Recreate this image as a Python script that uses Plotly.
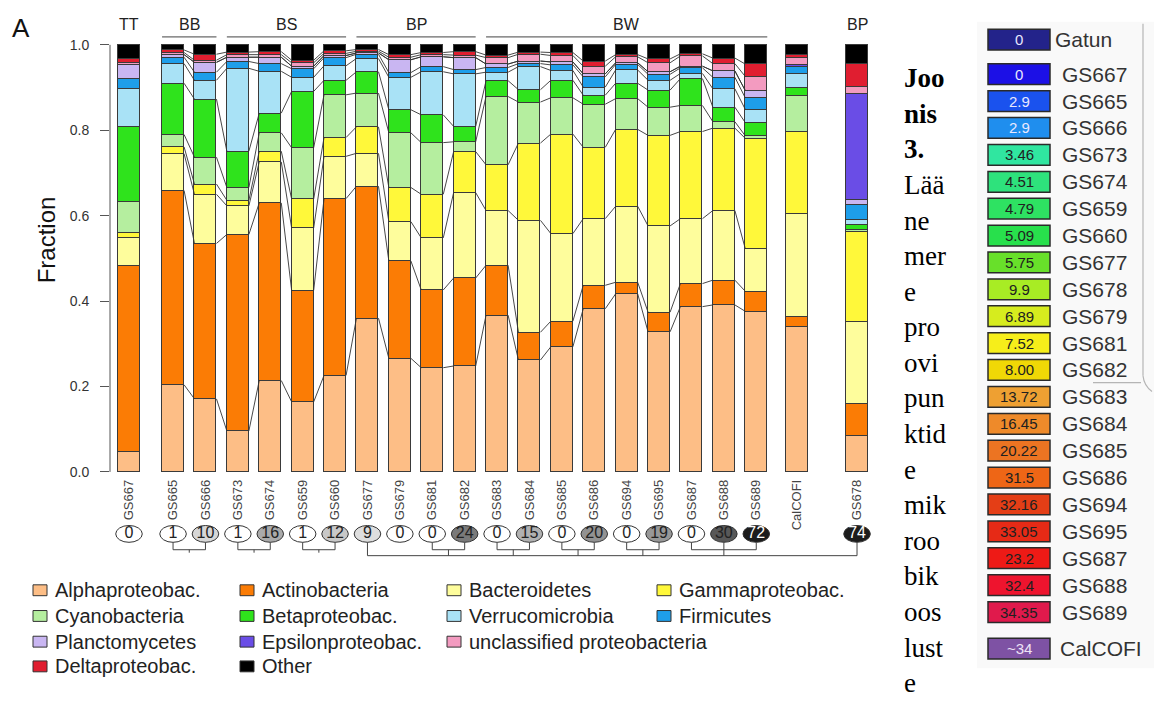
import numpy as np
import plotly.graph_objects as go

W, H = 1154, 704
SANS = "Liberation Sans, Arial, Helvetica, sans-serif"
SERIF = "Liberation Serif, Times New Roman, serif"

# ---------------------------------------------------------------- data
samples = ["GS667", "GS665", "GS666", "GS673", "GS674", "GS659", "GS660",
           "GS677", "GS679", "GS681", "GS682", "GS683", "GS684", "GS685",
           "GS686", "GS694", "GS695", "GS687", "GS688", "GS689", "CalCOFI", "GS678"]

alphaproteobac = [.048, .204, .171, .096, .214, .164, .226, .360, .266, .244, .248,
                  .367, .262, .293, .382, .417, .328, .387, .391, .376, .341, .085]
actinobacteria = [.436, .455, .364, .460, .416, .261, .414, .309, .228, .182, .206,
                  .117, .065, .060, .055, .027, .046, .054, .058, .047, .022, .075]
bacteroidetes = [.064, .086, .115, .067, .096, .146, .099, .077, .092, .122, .200,
                 .128, .262, .205, .156, .178, .202, .152, .163, .100, .243, .193]
gammaproteobac = [.013, .016, .024, .013, .025, .068, .044, .062, .080, .102, .096,
                  .107, .181, .233, .167, .180, .212, .204, .193, .258, .191, .210]
cyanobacteria = [.071, .029, .063, .030, .043, .120, .100, .079, .128, .121, .023,
                 .160, .096, .085, .101, .072, .066, .061, .015, .006, .084, .004]
betaproteobac = [.176, .120, .136, .085, .046, .132, .034, .050, .054, .065, .036,
                 .037, .029, .041, .021, .036, .040, .063, .034, .031, .020, .012]
verrucomicrobia = [.089, .046, .044, .194, .098, .033, .034, .031, .076, .101, .123,
                   .020, .054, .023, .019, .031, .023, .012, .043, .031, .032, .011]
firmicutes = [.024, .015, .019, .016, .018, .020, .019, .010, .011, .012, .010,
              .011, .007, .013, .024, .013, .014, .013, .027, .027, .016, .035]
planctomycetes = [.033, .006, .023, .010, .015, .006, .005, .003, .030, .023, .028,
                  .008, .006, .007, .007, .004, .006, .004, .015, .017, .000, .012]
epsilonproteobac = [0, 0, 0, 0, 0, 0, 0, 0, 0, 0, 0,
                    0, 0, 0, 0, 0, 0, 0, 0, 0, .004, .250]
unclassified = [.004, .005, .005, .006, .006, .008, .005, .004, .006, .005, .006,
                .015, .016, .015, .018, .014, .021, .024, .017, .033, .018, .016]
deltaproteobac = [.011, .006, .014, .006, .007, .006, .006, .004, .006, .005, .008,
                  .006, .005, .007, .012, .005, .009, .005, .013, .029, .006, .052]
other = [.031, .012, .022, .017, .016, .036, .014, .011, .023, .018, .016,
         .024, .017, .018, .038, .023, .033, .021, .031, .045, .023, .045]

taxa = [
    ("Alphaproteobac.", alphaproteobac, "#FDBE86"),
    ("Actinobacteria", actinobacteria, "#FB7C05"),
    ("Bacteroidetes", bacteroidetes, "#FEFD9C"),
    ("Gammaproteobac.", gammaproteobac, "#FFF83A"),
    ("Cyanobacteria", cyanobacteria, "#B5EE9F"),
    ("Betaproteobac.", betaproteobac, "#2FE31C"),
    ("Verrucomicrobia", verrucomicrobia, "#A9E2F6"),
    ("Firmicutes", firmicutes, "#1E9EEA"),
    ("Planctomycetes", planctomycetes, "#C9B6F2"),
    ("Epsilonproteobac.", epsilonproteobac, "#6A4DE6"),
    ("unclassified proteobacteria", unclassified, "#F39BC0"),
    ("Deltaproteobac.", deltaproteobac, "#E01E30"),
    ("Other", other, "#000000"),
]
taxon_color = {name: col for name, _, col in taxa}

# key rows as laid out under the chart
key_rows = [["Alphaproteobac.", "Actinobacteria", "Bacteroidetes", "Gammaproteobac."],
            ["Cyanobacteria", "Betaproteobac.", "Verrucomicrobia", "Firmicutes"],
            ["Planctomycetes", "Epsilonproteobac.", "unclassified proteobacteria"],
            ["Deltaproteobac.", "Other"]]

# sites sharing a sampling region
groups = [("TT", ["GS667"]),
          ("BB", ["GS665", "GS666"]),
          ("BS", ["GS673", "GS674", "GS659", "GS660"]),
          ("BP", ["GS677", "GS679", "GS681", "GS682"]),
          ("BW", ["GS683", "GS684", "GS685", "GS686", "GS694", "GS695",
                  "GS687", "GS688", "GS689"]),
          ("BP", ["GS678"])]

# numbers in the ellipses under each bar (CalCOFI has none)
ring_values = [0, 1, 10, 1, 16, 1, 12, 9, 0, 0, 24, 0, 15, 0, 20, 0, 19, 0, 30, 72, None, 74]
pairs_local = [["GS665", "GS666"], ["GS673", "GS674"], ["GS659", "GS660"]]
pairs_linked = [["GS681", "GS682"], ["GS683", "GS684"], ["GS685", "GS686"],
                ["GS694", "GS695"], ["GS687", "GS688", "GS689"]]
trunk = ["GS677", "GS678"]

# salinity key
key_sites = ["Gatun", "GS667", "GS665", "GS666", "GS673", "GS674", "GS659", "GS660",
             "GS677", "GS678", "GS679", "GS681", "GS682", "GS683", "GS684", "GS685",
             "GS686", "GS694", "GS695", "GS687", "GS688", "GS689", "CalCOFI"]
key_values = ["0", "0", "2.9", "2.9", "3.46", "4.51", "4.79", "5.09", "5.75", "9.9",
              "6.89", "7.52", "8.00", "13.72", "16.45", "20.22", "31.5", "32.16",
              "33.05", "23.2", "32.4", "34.35", "~34"]
key_colors = ["#23238A", "#1C10E6", "#1A52EE", "#1F8EEE", "#30E6A0", "#2EE27C",
              "#2EE262", "#28E04C", "#68E02A", "#A8EC24", "#D6EC1E", "#F6EE1A",
              "#F0D806", "#EEA032", "#EE8A2A", "#EC7422", "#EE6616", "#E43E16",
              "#E62A16", "#EE1A16", "#EE142E", "#E01A4C", "#7E52A4"]
key_text_colors = ["#E8E8FF"] * 4 + ["#202020"] * 18 + ["#EEE2F6"]

caption_lines = [("Joo", True), ("nis", True), ("3.", True), ("Lää", False),
                 ("ne", False), ("mer", False), ("e", False), ("pro", False),
                 ("ovi", False), ("pun", False), ("ktid", False), ("e", False),
                 ("mik", False), ("roo", False), ("bik", False), ("oos", False),
                 ("lust", False), ("e", False)]


# ---------------------------------------------------------------- geometry
def px(x):
    return x / W


def py(y):
    return 1 - y / H


UNIT = 32.4        # pixels per bar slot
X_ORIGIN = 129.0   # pixel centre of the first bar
BAR_W = 0.68
extra_gap = {"GS665": 0.36, "CalCOFI": 0.26, "GS678": 0.85}
pos = []
p = 0.0
for i, s in enumerate(samples):
    if i > 0:
        p += 1 + extra_gap.get(s, 0.0)
    pos.append(p)
idx = {s: i for i, s in enumerate(samples)}

PLOT_L, PLOT_R = 110.0, 880.0
x_range = [(PLOT_L - X_ORIGIN) / UNIT, (PLOT_R - X_ORIGIN) / UNIT]
Y0PX, Y1PX = 473.3, 41.3
YPAD = 0.01
per = Y0PX - Y1PX
y_dom = [py(Y0PX + YPAD * per), py(Y1PX - YPAD * per)]

fig = go.Figure()

# stacked bars
for name, vals, col in taxa:
    fig.add_trace(go.Bar(x=pos, y=vals, width=BAR_W, name=name,
                         marker=dict(color=col, line=dict(color="#3a3a3a", width=1)),
                         hoverinfo="skip", showlegend=False))

# lines joining layer boundaries between neighbouring bars
cum = np.cumsum(np.array([t[1] for t in taxa]), axis=0)
run = list(range(idx["GS665"], idx["GS689"] + 1))
lx, ly = [], []
for k in range(len(taxa) - 1):
    for a, b in zip(run[:-1], run[1:]):
        lx += [pos[a] + BAR_W / 2, pos[b] - BAR_W / 2, None]
        ly += [cum[k, a], cum[k, b], None]
fig.add_trace(go.Scatter(x=lx, y=ly, mode="lines",
                         line=dict(color="#333333", width=0.9),
                         hoverinfo="skip", showlegend=False))

shapes = []
annotations = []

# y axis line from 0 to 1
shapes.append(dict(type="line", xref="paper", yref="y", x0=px(PLOT_L), x1=px(PLOT_L),
                   y0=0, y1=1, line=dict(color="#555", width=1)))

# region headers
for label, members in groups:
    xs = [pos[idx[m]] for m in members]
    annotations.append(dict(xref="x", yref="paper", x=float(np.mean(xs)), y=py(21),
                            text=label, showarrow=False, xanchor="center", yanchor="middle",
                            font=dict(family=SANS, size=16, color="#222")))
    if len(members) > 1:
        shapes.append(dict(type="line", xref="x", yref="paper",
                           x0=min(xs) - BAR_W / 2, x1=max(xs) + BAR_W / 2,
                           y0=py(33.3), y1=py(33.3), line=dict(color="#444", width=1)))


# ellipses with counts (second subplot, pixel-scaled y)
def ring_fill(v):
    g = np.interp(v, [1, 9, 16, 24, 30, 72], [255, 222, 170, 122, 88, 28])
    g = int(round(g))
    return f"rgb({g},{g},{g})", ("#ffffff" if g < 70 else "#222222")


rx, ry, rt, rc = [], [], [], []
for s, v in zip(samples, ring_values):
    if v is None:
        continue
    fill, tc = ring_fill(v)
    x = pos[idx[s]]
    shapes.append(dict(type="circle", xref="x2", yref="y2", x0=x - 0.41, x1=x + 0.41,
                       y0=527.5, y1=544.5, fillcolor=fill, layer="below",
                       line=dict(color="#333", width=1)))
    rx.append(x); ry.append(536.5); rt.append(str(v)); rc.append(tc)
fig.add_trace(go.Scatter(x=rx, y=ry, text=rt, mode="text", xaxis="x2", yaxis="y2",
                         textfont=dict(family=SANS, size=16, color=rc),
                         hoverinfo="skip", showlegend=False))

bx, by = [], []
for grp in pairs_local + pairs_linked:
    xs = [pos[idx[m]] for m in grp]
    for x in xs:
        bx += [x, x, None]; by += [544.5, 552, None]
    bx += [min(xs), max(xs), None]; by += [552, 552, None]
    mid = xs[len(xs) // 2] if len(xs) % 2 == 1 else (xs[0] + xs[-1]) / 2
    end = 558 if grp in pairs_linked else 555
    bx += [mid, mid, None]; by += [552, end, None]
ta, tb = pos[idx[trunk[0]]], pos[idx[trunk[1]]]
bx += [ta, ta, None, tb, tb, None, ta, tb, None]
by += [544.5, 558, None, 544.5, 558, None, 558, 558, None]
fig.add_trace(go.Scatter(x=bx, y=by, mode="lines", xaxis="x2", yaxis="y2",
                         line=dict(color="#444", width=1),
                         hoverinfo="skip", showlegend=False))

# taxon key below the chart
col_left = [33, 240, 447, 657]
row_y = [593, 619, 645, 670]
for r, row in enumerate(key_rows):
    for c, name in enumerate(row):
        x0, yc = col_left[c], row_y[r]
        shapes.append(dict(type="rect", xref="paper", yref="paper",
                           x0=px(x0), x1=px(x0 + 14), y0=py(yc + 5.5), y1=py(yc - 5.5),
                           fillcolor=taxon_color[name], line=dict(color="#333", width=1)))
        annotations.append(dict(xref="paper", yref="paper", x=px(x0 + 20), y=py(yc),
                                text=name, showarrow=False, xanchor="left", yanchor="middle",
                                font=dict(family=SANS, size=20, color="#222")))

# panel letter and axis title
annotations.append(dict(xref="paper", yref="paper", x=px(21), y=py(24), text="A",
                        showarrow=False, xanchor="center", yanchor="middle",
                        font=dict(family=SANS, size=26, color="#111")))
annotations.append(dict(xref="paper", yref="paper", x=px(46), y=py(238), text="Fraction",
                        textangle=-90, showarrow=False, xanchor="center", yanchor="middle",
                        font=dict(family=SANS, size=24, color="#111")))

# caption column
for k, (txt, bold) in enumerate(caption_lines):
    t = f"<b>{txt}</b>" if bold else txt
    annotations.append(dict(xref="paper", yref="paper", x=px(902), y=py(75 + 36.0 * k),
                            text=t, showarrow=False, xanchor="left", yanchor="middle",
                            font=dict(family=SERIF, size=27, color="#000")))

# salinity key panel
shapes.append(dict(type="rect", xref="paper", yref="paper", x0=px(977), x1=px(1154),
                   y0=py(672), y1=py(18), fillcolor="#f9f9f9", line=dict(width=0),
                   layer="below"))
shapes.append(dict(type="line", xref="paper", yref="paper", x0=px(1143), x1=px(1143),
                   y0=py(20), y1=py(376), line=dict(color="#b5b5b5", width=1.2)))
shapes.append(dict(type="line", xref="paper", yref="paper", x0=px(1093), x1=px(1141),
                   y0=py(383), y1=py(383), line=dict(color="#b5b5b5", width=1.2)))
shapes.append(dict(type="path", xref="paper", yref="paper",
                   path=f"M {px(1143)},{py(376)} Q {px(1144)},{py(386)} {px(1152)},{py(392)}",
                   line=dict(color="#b5b5b5", width=1.2)))

for k, (site, val, col, tcol) in enumerate(zip(key_sites, key_values, key_colors, key_text_colors)):
    if k == 0:
        yc, tx = 36, 1053
    elif site == "CalCOFI":
        yc, tx = 652, 1058
    else:
        yc, tx = 71 + 27.2 * (k - 1), 1060
    shapes.append(dict(type="rect", xref="paper", yref="paper",
                       x0=px(988), x1=px(1050), y0=py(yc + 10.5), y1=py(yc - 10.5),
                       fillcolor=col, line=dict(color="#2a2a2a", width=1.5)))
    annotations.append(dict(xref="paper", yref="paper", x=px(1019), y=py(yc), text=val,
                            showarrow=False, xanchor="center", yanchor="middle",
                            font=dict(family=SANS, size=15, color=tcol)))
    annotations.append(dict(xref="paper", yref="paper", x=px(tx), y=py(yc), text=site,
                            showarrow=False, xanchor="left", yanchor="middle",
                            font=dict(family=SANS, size=21, color="#333")))

fig.update_layout(
    width=W, height=H, margin=dict(l=0, r=0, t=0, b=0),
    paper_bgcolor="white", plot_bgcolor="rgba(0,0,0,0)",
    barmode="stack", bargap=0, showlegend=False,
    xaxis=dict(domain=[px(PLOT_L), px(PLOT_R)], range=x_range, tickvals=pos,
               ticktext=samples, tickangle=-90, ticks="",
               tickfont=dict(family=SANS, size=13, color="#444"),
               showgrid=False, zeroline=False, showline=False),
    yaxis=dict(domain=y_dom, range=[-YPAD, 1 + YPAD],
               tickvals=[0, 0.2, 0.4, 0.6, 0.8, 1.0],
               ticktext=["0.0", "0.2", "0.4", "0.6", "0.8", "1.0"],
               ticks="outside", ticklen=9, tickwidth=1, tickcolor="#555",
               ticklabelstandoff=8,
               tickfont=dict(family=SANS, size=14, color="#333"),
               showgrid=False, zeroline=False, showline=False),
    xaxis2=dict(domain=[px(PLOT_L), px(PLOT_R)], range=x_range, visible=False, anchor="y2"),
    yaxis2=dict(domain=[py(580), py(515)], range=[580, 515], visible=False, anchor="x2"),
    shapes=shapes, annotations=annotations,
)

fig.write_html("out.html")
